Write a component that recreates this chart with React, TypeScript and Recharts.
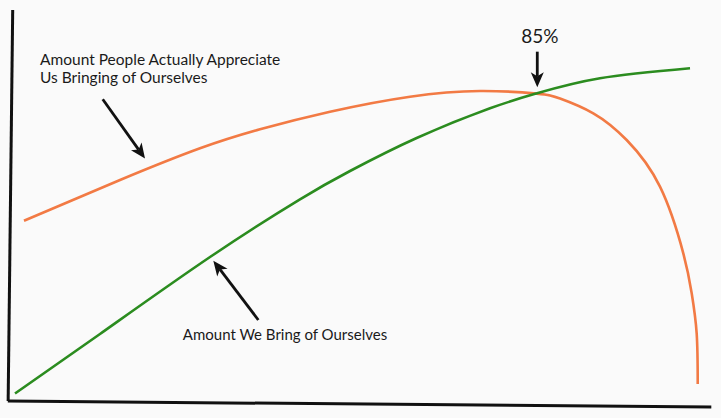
import React from "react";
import { LineChart, Line, XAxis, YAxis, ReferenceLine, ReferenceDot } from "recharts";

// Curve read-outs (x: 0-100 across, y: 0-100 up)
const appreciatedX = [1.71, 15.43, 26.86, 35.43, 45.43, 56.86, 66.86, 74.96, 78.29, 83.04, 87.81, 92.57, 95.9, 97.1, 97.81, 97.96];
const appreciatedY = [46.11, 56.52, 64.63, 69.49, 73.99, 77.83, 79.28, 78.62, 77.37, 73.58, 66.75, 54.81, 37.77, 27.55, 17.31, 4.35];

const broughtX = [0.43, 12.57, 28.29, 41.14, 48.29, 57.81, 68.29, 74.96, 84.0, 96.86];
const broughtY = [1.92, 17.14, 36.83, 51.59, 58.82, 67.26, 74.86, 78.67, 82.53, 85.09];

const labelTop = ["Amount People Actually Appreciate", "Us Bringing of Ourselves"];
const labelBottom = "Amount We Bring of Ourselves";
const labelPeak = "85%";

const appreciatedData = appreciatedX.map((x, i) => ({ x, y: appreciatedY[i] }));
const broughtData = broughtX.map((x, i) => ({ x, y: broughtY[i] }));

const FONT = "Lato, 'Open Sans', sans-serif";
const ORANGE = "#f27a44";
const GREEN = "#2b8c1f";

const ArrowShape = (props: any) => {
  const { x1, y1, x2, y2 } = props;
  const dx = x2 - x1;
  const dy = y2 - y1;
  const len = Math.sqrt(dx * dx + dy * dy) || 1;
  const ux = dx / len;
  const uy = dy / len;
  const px = -uy;
  const py = ux;
  const L = 15;
  const W = 6.5;
  const N = 4;
  const bx = x2 - ux * L;
  const by = y2 - uy * L;
  const nx = x2 - ux * (L - N);
  const ny = y2 - uy * (L - N);
  const pts = [
    [x2, y2],
    [bx + px * W, by + py * W],
    [nx, ny],
    [bx - px * W, by - py * W],
  ]
    .map((p) => p.join(","))
    .join(" ");
  return (
    <g>
      <line x1={x1} y1={y1} x2={nx} y2={ny} stroke="#111" strokeWidth={2.8} />
      <polygon points={pts} fill="#111" />
    </g>
  );
};

const TextShape = (lines: string[], size: number, anchor: "start" | "middle", lineGap: number) => (props: any) => {
  const { cx, cy } = props;
  return (
    <g>
      {lines.map((t, i) => (
        <text
          key={i}
          x={cx}
          y={cy + i * lineGap}
          fontFamily={FONT}
          fontSize={size}
          fill="#1a1a1a"
          textAnchor={anchor}
        >
          {t}
        </text>
      ))}
    </g>
  );
};

export default function App() {
  return (
    <div style={{ position: "absolute", left: 0, top: 0, width: 721, height: 418, background: "#fafafa" }}>
      <LineChart width={721} height={418} margin={{ top: 10, right: 9, bottom: 17, left: 12 }}>
        <XAxis type="number" dataKey="x" domain={[0, 100]} hide allowDataOverflow />
        <YAxis type="number" dataKey="y" domain={[0, 100]} hide allowDataOverflow />
        <ReferenceLine
          segment={[{ x: 0.1, y: 100 }, { x: -0.55, y: 0 }]}
          stroke="#111"
          strokeWidth={3}
          ifOverflow="visible"
        />
        <ReferenceLine
          segment={[{ x: -0.6, y: 0 }, { x: 99.9, y: -1.55 }]}
          stroke="#111"
          strokeWidth={3}
          ifOverflow="visible"
        />
        <Line
          data={appreciatedData}
          dataKey="y"
          type="natural"
          stroke={ORANGE}
          strokeWidth={2.6}
          dot={false}
          activeDot={false}
          isAnimationActive={false}
        />
        <Line
          data={broughtData}
          dataKey="y"
          type="natural"
          stroke={GREEN}
          strokeWidth={2.6}
          dot={false}
          activeDot={false}
          isAnimationActive={false}
        />
        <ReferenceLine
          segment={[{ x: 12.96, y: 77.16 }, { x: 19.0, y: 62.0 }]}
          shape={ArrowShape}
          ifOverflow="visible"
        />
        <ReferenceLine
          segment={[{ x: 75.04, y: 89.34 }, { x: 75.04, y: 80.23 }]}
          shape={ArrowShape}
          ifOverflow="visible"
        />
        <ReferenceLine
          segment={[{ x: 35.19, y: 20.72 }, { x: 28.76, y: 35.88 }]}
          shape={ArrowShape}
          ifOverflow="visible"
        />
        <ReferenceDot x={4} y={85.93} r={1} ifOverflow="visible" shape={TextShape(labelTop, 15.5, "start", 18.3)} />
        <ReferenceDot x={75.4} y={91.6} r={1} ifOverflow="visible" shape={TextShape([labelPeak], 19, "middle", 0)} />
        <ReferenceDot x={24.4} y={15.6} r={1} ifOverflow="visible" shape={TextShape([labelBottom], 15, "start", 0)} />
      </LineChart>
    </div>
  );
}
